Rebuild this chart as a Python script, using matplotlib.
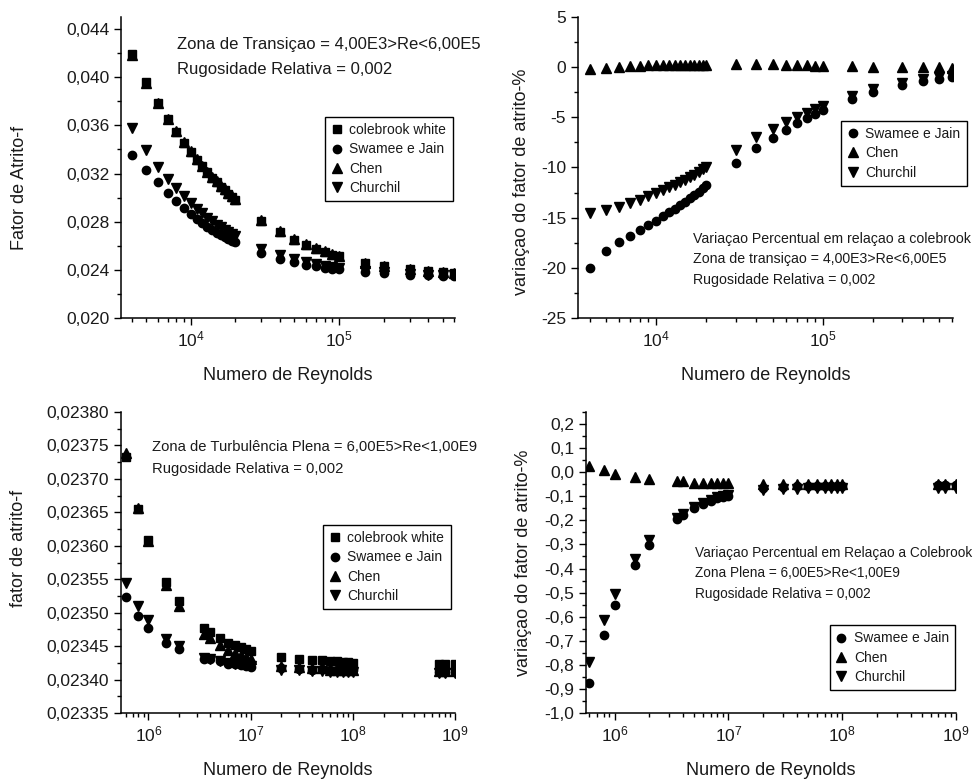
import matplotlib

matplotlib.use("Agg")
import matplotlib.pyplot as plt
import numpy as np
from matplotlib.ticker import FuncFormatter, LogLocator, MultipleLocator, NullFormatter

plt.rcParams["font.family"] = ["Liberation Sans", "DejaVu Sans"]
plt.rcParams["mathtext.fontset"] = "custom"
plt.rcParams["mathtext.rm"] = "Liberation Sans"
plt.rcParams["mathtext.default"] = "regular"

# ---- zona de transicao ----
re_trans = [4000, 5000, 6000, 7000, 8000, 9000, 10000, 11000, 12000, 13000,
            14000, 15000, 16000, 17000, 18000, 19000, 20000, 30000, 40000,
            50000, 60000, 70000, 80000, 90000, 100000, 150000, 200000,
            300000, 400000, 500000, 600000]
f_colebrook_t = [0.04189, 0.03957, 0.03785, 0.03650, 0.03544, 0.03455, 0.03379,
                 0.03314, 0.03259, 0.03209, 0.03166, 0.03126, 0.03092, 0.03060,
                 0.03030, 0.03004, 0.02979, 0.02809, 0.02712, 0.02650, 0.02606,
                 0.02573, 0.02548, 0.02527, 0.02511, 0.02458, 0.02431, 0.02403,
                 0.02388, 0.02379, 0.02373]
f_swamee_t = [0.03351, 0.03233, 0.03126, 0.03037, 0.02970, 0.02913, 0.02862,
              0.02824, 0.02788, 0.02757, 0.02731, 0.02707, 0.02688, 0.02671,
              0.02654, 0.02642, 0.02630, 0.02539, 0.02492, 0.02463, 0.02442,
              0.02429, 0.02418, 0.02408, 0.02403, 0.02379, 0.02371, 0.02361,
              0.02355, 0.02350, 0.02349]
f_chen_t = [0.04182, 0.03954, 0.03786, 0.03653, 0.03549, 0.03461, 0.03385,
            0.03321, 0.03266, 0.03216, 0.03174, 0.03134, 0.03100, 0.03068,
            0.03038, 0.03012, 0.02987, 0.02817, 0.02720, 0.02657, 0.02612,
            0.02578, 0.02553, 0.02531, 0.02515, 0.02460, 0.02432, 0.02403,
            0.02388, 0.02378, 0.02372]
f_churchil_t = [0.03582, 0.03393, 0.03257, 0.03155, 0.03076, 0.03011, 0.02955,
                0.02908, 0.02870, 0.02834, 0.02803, 0.02776, 0.02753, 0.02733,
                0.02713, 0.02698, 0.02681, 0.02576, 0.02522, 0.02486, 0.02464,
                0.02446, 0.02432, 0.02421, 0.02413, 0.02388, 0.02378, 0.02366,
                0.02359, 0.02355, 0.02353]
pct_swamee_t = [-20.0, -18.3, -17.4, -16.8, -16.2, -15.7, -15.3, -14.8, -14.45,
                -14.1, -13.75, -13.4, -13.05, -12.7, -12.4, -12.05, -11.7, -9.6,
                -8.1, -7.05, -6.3, -5.6, -5.1, -4.7, -4.3, -3.2, -2.45, -1.75,
                -1.4, -1.2, -1.0]
pct_chen_t = [-0.17, -0.08, 0.02, 0.08, 0.13, 0.17, 0.19, 0.21, 0.22, 0.23, 0.24,
              0.25, 0.25, 0.26, 0.26, 0.26, 0.26, 0.3, 0.3, 0.27, 0.23, 0.2, 0.18,
              0.16, 0.14, 0.08, 0.06, 0.02, 0.0, -0.03, -0.06]
pct_churchil_t = [-14.5, -14.25, -13.95, -13.55, -13.2, -12.85, -12.55, -12.25,
                  -11.95, -11.7, -11.45, -11.2, -10.95, -10.7, -10.45, -10.2,
                  -10.0, -8.3, -7.0, -6.2, -5.45, -4.95, -4.55, -4.2, -3.9,
                  -2.85, -2.2, -1.55, -1.2, -1.0, -0.85]

# ---- zona de turbulencia plena ----
re_plena = [6e5, 8e5, 1e6, 1.5e6, 2e6, 3.5e6, 4e6, 5e6, 6e6, 7e6, 8e6, 9e6, 1e7,
            2e7, 3e7, 4e7, 5e7, 6e7, 7e7, 8e7, 9e7, 1e8, 7e8, 8e8, 1e9]
f_colebrook_p = [0.023732, 0.023655, 0.023608, 0.023546, 0.023517, 0.023477,
                 0.023471, 0.023462, 0.023455, 0.023451, 0.023448, 0.023445,
                 0.023442, 0.023433, 0.023431, 0.023429, 0.023429, 0.023427,
                 0.023427, 0.023426, 0.023426, 0.023425, 0.023424, 0.023424,
                 0.023423]
f_swamee_p = [0.023524, 0.023495, 0.023477, 0.023455, 0.023446, 0.023431,
              0.023430, 0.023427, 0.023424, 0.023423, 0.023422, 0.023421,
              0.023419, 0.023417, 0.023416, 0.023415, 0.023416, 0.023414,
              0.023414, 0.023414, 0.023414, 0.023414, 0.023412, 0.023412,
              0.023412]
f_chen_p = [0.023738, 0.023657, 0.023607, 0.023541, 0.023510, 0.023468,
            0.023462, 0.023451, 0.023444, 0.023440, 0.023437, 0.023434,
            0.023431, 0.023421, 0.023419, 0.023417, 0.023417, 0.023415,
            0.023415, 0.023415, 0.023415, 0.023415, 0.023413, 0.023413,
            0.023413]
f_churchil_p = [0.023545, 0.023510, 0.023489, 0.023461, 0.023450, 0.023432,
                0.023431, 0.023428, 0.023425, 0.023424, 0.023423, 0.023422,
                0.023420, 0.023415, 0.023415, 0.023413, 0.023413, 0.023412,
                0.023412, 0.023412, 0.023412, 0.023412, 0.023410, 0.023410,
                0.023410]
pct_swamee_p = [-0.875, -0.675, -0.553, -0.387, -0.304, -0.194, -0.176, -0.149,
                -0.132, -0.118, -0.109, -0.102, -0.098, -0.067, -0.063, -0.059,
                -0.057, -0.057, -0.057, -0.057, -0.057, -0.057, -0.055, -0.055,
                -0.055]
pct_chen_p = [0.024, 0.008, -0.006, -0.02, -0.028, -0.038, -0.038, -0.045,
              -0.045, -0.045, -0.045, -0.045, -0.045, -0.05, -0.05, -0.05,
              -0.05, -0.05, -0.05, -0.05, -0.05, -0.05, -0.05, -0.05, -0.05]
pct_churchil_p = [-0.79, -0.612, -0.505, -0.36, -0.283, -0.19, -0.172, -0.145,
                  -0.128, -0.114, -0.105, -0.098, -0.093, -0.075, -0.07, -0.068,
                  -0.066, -0.066, -0.066, -0.066, -0.066, -0.066, -0.064,
                  -0.064, -0.064]

MARKERS = {
    "colebrook white": ("s", 5.5),
    "Swamee e Jain": ("o", 6),
    "Chen": ("^", 6.5),
    "Churchil": ("v", 6.5),
}
TEXT = "#1a1a1a"


def comma_fmt(decimals):
    def fmt(v, pos):
        s = f"{v:.{decimals}f}".replace(".", ",")
        if s.startswith("-") and abs(v) < 0.5 * 10 ** (-decimals):
            s = s[1:]
        return s
    return FuncFormatter(fmt)


def setup(ax, xlim, ylim, major, minor, decimals):
    ax.set_xscale("log")
    ax.set_xlim(*xlim)
    ax.set_ylim(*ylim)
    ax.yaxis.set_major_locator(MultipleLocator(major))
    ax.yaxis.set_minor_locator(MultipleLocator(minor))
    ax.yaxis.set_major_formatter(comma_fmt(decimals))
    ax.xaxis.set_major_locator(LogLocator(base=10, numticks=20))
    ax.xaxis.set_minor_locator(LogLocator(base=10, subs=np.arange(2, 10), numticks=100))
    ax.xaxis.set_minor_formatter(NullFormatter())
    ax.spines["top"].set_visible(False)
    ax.spines["right"].set_visible(False)
    for s in ["left", "bottom"]:
        ax.spines[s].set_linewidth(1.1)
    ax.tick_params(which="both", direction="out", width=1.0, labelsize=12.5,
                   labelcolor=TEXT)
    ax.tick_params(which="major", length=5)
    ax.tick_params(which="minor", length=3)


def draw(ax, x, series):
    for name, y in series:
        m, ms = MARKERS[name]
        ax.plot(x, y, linestyle="none", marker=m, ms=ms, color="black", label=name)


def add_legend(ax, x0, ytop):
    leg = ax.legend(loc="upper left", bbox_to_anchor=(x0, ytop), borderaxespad=0,
                    fontsize=10, numpoints=1, handlelength=0.8, handletextpad=0.5,
                    labelspacing=0.38, borderpad=0.45, fancybox=False, framealpha=1,
                    edgecolor="black")
    leg.get_frame().set_linewidth(1.0)
    for t in leg.get_texts():
        t.set_color(TEXT)


def labels(ax, ylabel, xl, yl):
    ax.set_xlabel("Numero de Reynolds", fontsize=13, color=TEXT)
    ax.set_ylabel(ylabel, fontsize=13, color=TEXT)
    ax.xaxis.set_label_coords(0.5, xl)
    ax.yaxis.set_label_coords(*yl)
    ax.xaxis.label.set_verticalalignment("center")
    ax.yaxis.label.set_verticalalignment("center")


fig = plt.figure(figsize=(9.8, 7.83), dpi=100)
ax1 = fig.add_axes([0.1235, 0.5939, 0.3408, 0.3844])
ax2 = fig.add_axes([0.5898, 0.5939, 0.3827, 0.3844])
ax3 = fig.add_axes([0.1235, 0.0894, 0.3408, 0.3844])
ax4 = fig.add_axes([0.5980, 0.0894, 0.3776, 0.3844])

# top left
setup(ax1, (3400, 6.05e5), (0.020, 0.045), 0.004, 0.002, 3)
draw(ax1, re_trans, [("colebrook white", f_colebrook_t), ("Swamee e Jain", f_swamee_t),
                     ("Chen", f_chen_t), ("Churchil", f_churchil_t)])
add_legend(ax1, 0.611, 0.668)
labels(ax1, "Fator de Atrito-f", -0.19, (-0.305, 0.432))
ax1.text(0.167, 0.907, "Zona de Transiçao = 4,00E3>Re<6,00E5", transform=ax1.transAxes,
         fontsize=12, va="center", color=TEXT)
ax1.text(0.167, 0.824, "Rugosidade Relativa = 0,002", transform=ax1.transAxes,
         fontsize=12, va="center", color=TEXT)

# top right
setup(ax2, (3400, 6.05e5), (-25, 5), 5, 2.5, 0)
draw(ax2, re_trans, [("Swamee e Jain", pct_swamee_t), ("Chen", pct_chen_t),
                     ("Churchil", pct_churchil_t)])
add_legend(ax2, 0.701, 0.655)
labels(ax2, "variaçao do fator de atrito-%", -0.19, (-0.150, 0.453))
for yy, txt in zip([0.261, 0.195, 0.126],
                   ["Variaçao Percentual em relaçao a colebrook",
                    "Zona de transiçao = 4,00E3>Re<6,00E5",
                    "Rugosidade Relativa = 0,002"]):
    ax2.text(0.307, yy, txt, transform=ax2.transAxes, fontsize=10.2, va="center",
             color=TEXT)

# bottom left
setup(ax3, (5.4e5, 1e9), (0.02335, 0.02380), 0.00005, 0.000025, 5)
draw(ax3, re_plena, [("colebrook white", f_colebrook_p), ("Swamee e Jain", f_swamee_p),
                     ("Chen", f_chen_p), ("Churchil", f_churchil_p)])
add_legend(ax3, 0.605, 0.625)
labels(ax3, "fator de atrito-f", -0.19, (-0.307, 0.548))
ax3.text(0.092, 0.883, "Zona de Turbulência Plena = 6,00E5>Re<1,00E9",
         transform=ax3.transAxes, fontsize=10.6, va="center", color=TEXT)
ax3.text(0.092, 0.810, "Rugosidade Relativa = 0,002", transform=ax3.transAxes,
         fontsize=10.6, va="center", color=TEXT)

# bottom right
setup(ax4, (5.6e5, 1e9), (-1.0, 0.25), 0.1, 0.05, 1)
draw(ax4, re_plena, [("Swamee e Jain", pct_swamee_p), ("Chen", pct_chen_p),
                     ("Churchil", pct_churchil_p)])
add_legend(ax4, 0.658, 0.292)
labels(ax4, "variaçao do fator de atrito-%", -0.19, (-0.170, 0.498))
for yy, txt in zip([0.531, 0.464, 0.395],
                   ["Variaçao Percentual em Relaçao a Colebrook",
                    "Zona Plena = 6,00E5>Re<1,00E9",
                    "Rugosidade Relativa = 0,002"]):
    ax4.text(0.295, yy, txt, transform=ax4.transAxes, fontsize=9.8, va="center",
             color=TEXT)

fig.savefig("out.png", dpi=100)
